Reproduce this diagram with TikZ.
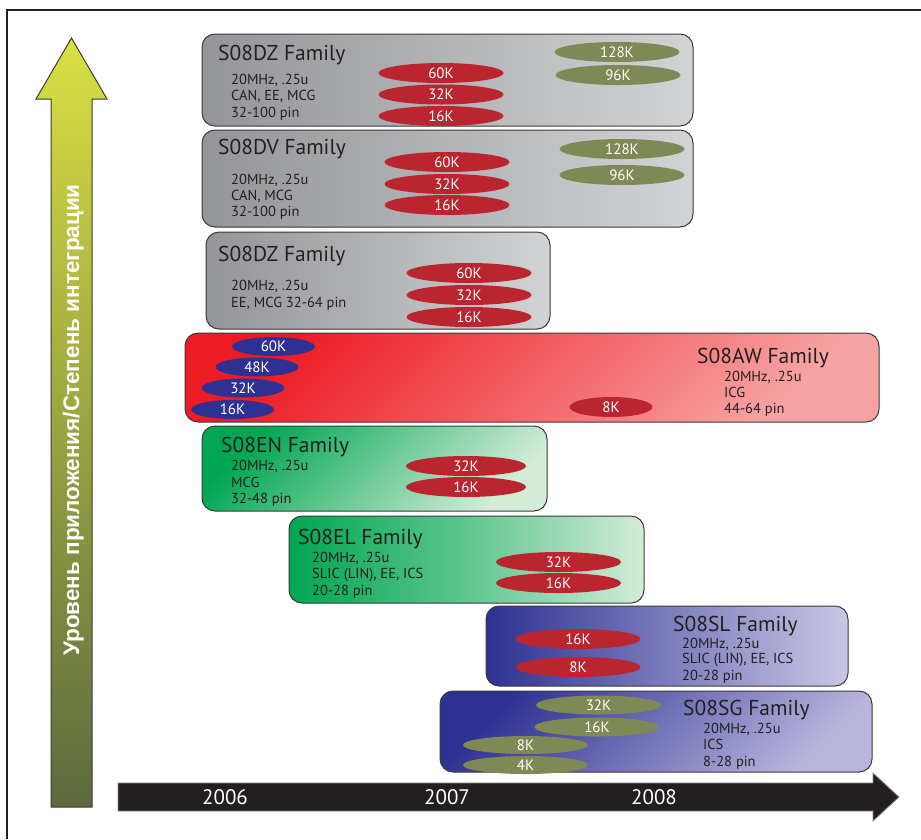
\documentclass[tikz,border=0pt]{standalone}
\usepackage{fontspec}
\setmainfont{PT Sans}
\newfontfamily\vfont{Liberation Sans}
\usetikzlibrary{shapes.geometric,shadings}
\definecolor{ink}{HTML}{231F20}
\definecolor{edge}{HTML}{3A3A3C}
\definecolor{greyL}{HTML}{939598}
\definecolor{greyR}{HTML}{D1D3D4}
\definecolor{pillred}{HTML}{BA2530}
\definecolor{pillgreen}{HTML}{7E8956}
\definecolor{pillblue}{HTML}{2E3192}
\definecolor{awA}{HTML}{ED1C24}
\definecolor{awB}{HTML}{F7A3A3}
\definecolor{gnA}{HTML}{00A651}
\definecolor{gnB}{HTML}{D3ECD8}
\definecolor{blA}{HTML}{2E3192}
\definecolor{blB}{HTML}{C9C7E5}
\definecolor{blC}{HTML}{B9B5DD}
\definecolor{arA}{HTML}{D8E042}
\definecolor{arB}{HTML}{5C6A3E}
\definecolor{axgrey}{HTML}{8A8A8A}
\begin{document}
\begin{tikzpicture}[x=1pt,y=-1pt,
  fambox/.style={rectangle,draw=edge,line width=1pt,rounded corners=13pt,inner sep=0pt},
  greybox/.style={fambox,left color=greyL,right color=greyR},
  pill/.style={ellipse,inner sep=0pt,minimum width=125pt,minimum height=20pt,text=white,font=\fontsize{15}{15}\selectfont},
  redpill/.style={pill,fill=pillred},
  grnpill/.style={pill,fill=pillgreen},
  blupill/.style={pill,fill=pillblue,minimum width=83pt,minimum height=19pt},
  famtitle/.style={anchor=base west,inner sep=0pt,text=ink,font=\fontsize{21.5}{21.5}\selectfont},
  spec/.style={anchor=base west,inner sep=0pt,text=ink,font=\fontsize{14.5}{14.5}\selectfont},
  year/.style={text=white,inner sep=0pt,font=\fontsize{21}{21}\selectfont}]
\useasboundingbox (0,0) rectangle (921,839);
% frame
\draw[ink,line width=1.3pt] (7,839) -- (7,10) -- (921,10);
% vertical arrow
\shadedraw[top color=arA,bottom color=arB,draw=edge,line width=1pt]
  (51,807) -- (51,99) -- (36,99) -- (71.5,38) -- (107,99) -- (92,99) -- (92,807) -- cycle;
\node[rotate=90,anchor=base,inner sep=0pt,text=white,font=\vfont\bfseries\fontsize{22.5}{22.5}\selectfont] (ylab) at (79,420) {Уровень приложения/Степень интеграции};
% horizontal arrow
\filldraw[fill=ink,draw=axgrey,line width=0.8pt]
  (118,783) -- (873,783) -- (873,773) -- (899,797) -- (873,821) -- (873,811) -- (118,811) -- cycle;
\node[year] (y2006) at (225,797) {2006};
\node[year] (y2007) at (447,797) {2007};
\node[year] (y2008) at (654,797) {2008};

% box 1: S08DZ
\node[greybox,minimum width=491pt,minimum height=92pt] (dza) at (447.5,80) {};
\node[famtitle] (dzat) at (218,60) {S08DZ Family};
\node[spec] (dzas1) at (231,84) {20MHz, .25u};
\node[spec] (dzas2) at (231,100.5) {CAN, EE, MCG};
\node[spec] (dzas3) at (231,117) {32-100 pin};
\node[redpill] (dza60) at (441,73) {60K};
\node[redpill] (dza32) at (441,94.5) {32K};
\node[redpill] (dza16) at (441,116) {16K};
\node[grnpill] (dza128) at (617,52) {128K};
\node[grnpill] (dza96) at (618,75) {96K};

% box 2: S08DV
\node[greybox,minimum width=491pt,minimum height=97pt] (dv) at (447.5,178.5) {};
\node[famtitle] (dvt) at (218,154) {S08DV Family};
\node[spec] (dvs1) at (231,184) {20MHz, .25u};
\node[spec] (dvs2) at (231,200) {CAN, MCG};
\node[spec] (dvs3) at (231,216) {32-100 pin};
\node[redpill] (dv60) at (447,162) {60K};
\node[redpill] (dv32) at (447,184) {32K};
\node[redpill] (dv16) at (447,205) {16K};
\node[grnpill] (dv128) at (622,149) {128K};
\node[grnpill] (dv96) at (622,175) {96K};

% box 3: S08DZ
\node[greybox,minimum width=344pt,minimum height=97pt] (dzb) at (378,280.5) {};
\node[famtitle] (dzbt) at (218,261) {S08DZ Family};
\node[spec] (dzbs1) at (231,290) {20MHz, .25u};
\node[spec] (dzbs2) at (231,307) {EE, MCG 32-64 pin};
\node[redpill] (dzb60) at (469,273) {60K};
\node[redpill] (dzb32) at (469,295) {32K};
\node[redpill] (dzb16) at (469,317) {16K};

% box 4: S08AW
\node[fambox,top color=awA,bottom color=awB,shading angle=45,minimum width=694pt,minimum height=89pt] (aw) at (532,377.5) {};
\node[famtitle] (awt) at (697,363) {S08AW Family};
\node[spec] (aws1) at (724,381) {20MHz, .25u};
\node[spec] (aws2) at (724,397) {ICG};
\node[spec] (aws3) at (724,413) {44-64 pin};
\node[blupill] (aw60) at (273.5,346.5) {60K};
\node[blupill] (aw48) at (257,367) {48K};
\node[blupill] (aw32) at (243,388) {32K};
\node[blupill] (aw16) at (232.5,409.5) {16K};
\node[redpill,minimum width=83pt] (aw8) at (611,407) {8K};

% box 5: S08EN
\node[fambox,top color=gnA,bottom color=gnB,shading angle=45,minimum width=345pt,minimum height=85pt] (en) at (374.5,468.5) {};
\node[famtitle] (ent) at (221,452) {S08EN Family};
\node[spec] (ens1) at (231,470) {20MHz, .25u};
\node[spec] (ens2) at (231,487) {MCG};
\node[spec] (ens3) at (231,503) {32-48 pin};
\node[redpill,minimum width=120pt] (en32) at (466,466) {32K};
\node[redpill,minimum width=120pt] (en16) at (466,487) {16K};

% box 6: S08EL
\node[fambox,left color=gnA,right color=gnB,middle color=gnA!55!gnB,minimum width=355pt,minimum height=87pt] (el) at (466.5,559.5) {};
\node[famtitle] (elt) at (298,544) {S08EL Family};
\node[spec] (els1) at (312,562) {20MHz, .25u};
\node[spec] (els2) at (312,578) {SLIC (LIN), EE, ICS};
\node[spec] (els3) at (312,595) {20-28 pin};
\node[redpill] (el32) at (558.5,562) {32K};
\node[redpill] (el16) at (558.5,583) {16K};

% box 7: S08SL
\node[fambox,left color=blA,right color=blB,minimum width=362pt,minimum height=80pt] (sl) at (667,646) {};
\node[famtitle] (slt) at (673,631) {S08SL Family};
\node[spec] (sls1) at (682,648) {20MHz, .25u};
\node[spec] (sls2) at (682,663) {SLIC (LIN), EE, ICS};
\node[spec] (sls3) at (682,680) {20-28 pin};
\node[redpill] (sl16) at (578,639) {16K};
\node[redpill] (sl8) at (578,667) {8K};

% box 8: S08SG
\node[fambox,top color=blA,bottom color=blC,shading angle=45,minimum width=432pt,minimum height=81pt] (sg) at (656,731.5) {};
\node[famtitle] (sgt) at (683,715) {S08SG Family};
\node[spec] (sgs1) at (703,733) {20MHz, .25u};
\node[spec] (sgs2) at (703,749) {ICS};
\node[spec] (sgs3) at (703,766) {8-28 pin};
\node[grnpill,minimum height=19pt] (sg32) at (598.5,705) {32K};
\node[grnpill,minimum height=19pt] (sg16) at (597,727) {16K};
\node[grnpill,minimum height=18pt] (sg8) at (525.5,745) {8K};
\node[grnpill,minimum height=18pt] (sg4) at (525.5,765) {4K};
\end{tikzpicture}
\end{document}
